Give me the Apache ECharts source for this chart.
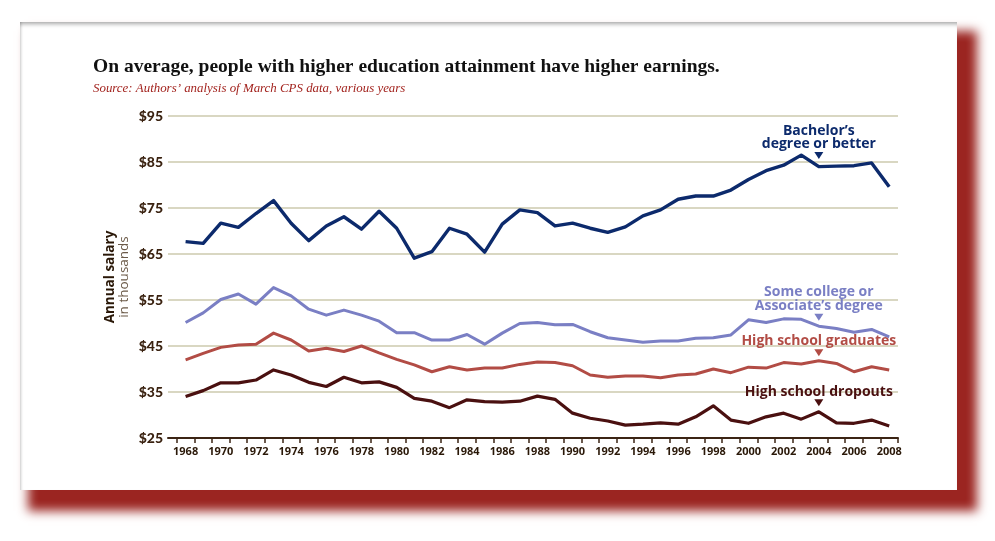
<!DOCTYPE html>
<html><head><meta charset="utf-8">
<script src="https://cdn.jsdelivr.net/npm/echarts@6/dist/echarts.min.js"></script>
<style>
html,body{margin:0;padding:0;background:#fff;width:995px;height:541px;overflow:hidden;}
#card{position:absolute;left:20px;top:22px;width:937px;height:468px;background:#fff;
  box-shadow: inset 0 5px 4px -3px rgba(0,0,0,0.35), inset 3px 0 3px -2px rgba(0,0,0,0.2), 14px 15px 10px 6px #9b2521;}
#chart{position:absolute;left:0;top:0;width:995px;height:541px;}
</style></head><body>
<div id="card"></div><div id="chart"></div>
<script>
// ---- data ----
const years = [1968,1969,1970,1971,1972,1973,1974,1975,1976,1977,1978,1979,1980,1981,1982,1983,1984,1985,1986,1987,1988,1989,1990,1991,1992,1993,1994,1995,1996,1997,1998,1999,2000,2001,2002,2003,2004,2005,2006,2007,2008];
const xTickLabels = [1968,1970,1972,1974,1976,1978,1980,1982,1984,1986,1988,1990,1992,1994,1996,1998,2000,2002,2004,2006,2008];
const yTickLabels = ['$25','$35','$45','$55','$65','$75','$85','$95'];
const bachelors = [67.7,67.3,71.7,70.8,73.8,76.6,71.7,67.9,71.1,73.1,70.4,74.3,70.6,64.1,65.5,70.6,69.3,65.4,71.5,74.6,74.0,71.1,71.7,70.6,69.7,70.9,73.3,74.6,76.9,77.6,77.6,78.9,81.2,83.1,84.3,86.5,84.0,84.1,84.2,84.8,79.6];
const someCollege = [50.1,52.2,55.1,56.3,54.1,57.7,55.9,53.0,51.7,52.8,51.7,50.4,47.9,47.9,46.3,46.3,47.5,45.4,47.8,49.9,50.1,49.6,49.7,48.1,46.8,46.3,45.8,46.1,46.1,46.7,46.8,47.4,50.7,50.1,50.9,50.8,49.3,48.8,48.0,48.6,47.0];
const hsGrads = [42.0,43.4,44.7,45.2,45.4,47.8,46.3,43.9,44.5,43.8,45.0,43.5,42.1,40.9,39.4,40.5,39.8,40.2,40.2,41.0,41.5,41.4,40.7,38.7,38.2,38.5,38.5,38.1,38.7,38.9,40.0,39.2,40.4,40.2,41.4,41.1,41.8,41.2,39.4,40.5,39.8];
const dropouts = [34.0,35.3,37.0,37.0,37.6,39.8,38.7,37.1,36.2,38.2,37.0,37.2,36.0,33.6,33.0,31.6,33.3,32.9,32.8,33.0,34.1,33.4,30.4,29.3,28.7,27.8,28.0,28.3,28.0,29.6,32.0,28.9,28.2,29.6,30.4,29.1,30.7,28.3,28.2,28.9,27.6];
const seriesNames = ['Bachelor’s degree or better','Some college or Associate’s degree','High school graduates','High school dropouts'];
const annotLabels = ['Bachelor’s\ndegree or better','Some college or\nAssociate’s degree','High school graduates','High school dropouts'];
const annotYear = 2004;
const titleText = 'On average, people with higher education attainment have higher earnings.';
const subtitleText = 'Source: Authors’ analysis of March CPS data, various years';

// ---- styles ----
const colors = ['#0c2a6c','#7a7fc4','#b24c45','#4a1010'];
const widths = [3.4,3.0,3.0,3.2];
const offsets = [-11,-9,-8,-9];
const allData = [bachelors, someCollege, hsGrads, dropouts];

const series = allData.map((vals, i) => ({
  name: seriesNames[i],
  type: 'line',
  data: years.map((y, k) => [y, vals[k]]),
  showSymbol: false,
  lineStyle: {color: colors[i], width: widths[i], join: 'round'},
  itemStyle: {color: colors[i]},
  z: 5 - i,
  markPoint: {
    symbol: 'path://M0,0L10,0L5,8Z',
    symbolSize: [9, 7],
    symbolOffset: [0, offsets[i]],
    silent: true,
    itemStyle: {color: colors[i]},
    label: {
      show: true, position: 'top', distance: 1,
      formatter: annotLabels[i],
      color: colors[i], fontFamily: 'Open Sans', fontWeight: 'bold', fontSize: 14, lineHeight: 13.5, align: 'center'
    },
    data: [{coord: [annotYear, vals[years.indexOf(annotYear)]]}]
  }
}));

const chart = echarts.init(document.getElementById('chart'), null, {renderer: 'canvas'});
chart.setOption({
  animation: false,
  backgroundColor: 'transparent',
  title: [
    {text: titleText, left: 93, top: 57, padding: 0, textStyle: {fontFamily: 'Liberation Serif', fontWeight: 'bold', fontSize: 19.5, color: '#111'}},
    {text: subtitleText, left: 93, top: 82, padding: 0, textStyle: {fontFamily: 'Liberation Serif', fontStyle: 'italic', fontWeight: 'normal', fontSize: 12.9, color: '#a3241f'}}
  ],
  grid: {left: 168, top: 116, width: 730, height: 322, containLabel: false},
  xAxis: {
    type: 'value', min: 1967, max: 2008.5,
    axisLine: {show: true, onZero: false, lineStyle: {color: '#3b2414', width: 2}},
    axisTick: {show: true, customValues: years.map(y => y - 0.5).concat([years[years.length - 1] + 0.5]), length: 5, lineStyle: {color: '#3b2414', width: 1.5}},
    axisLabel: {customValues: xTickLabels, formatter: v => String(v), fontFamily: 'Open Sans', fontWeight: 'bold', fontSize: 11, color: '#2a1808', margin: 8},
    splitLine: {show: false}
  },
  yAxis: {
    type: 'value', min: 25, max: 95, interval: 10,
    axisLine: {show: false}, axisTick: {show: false},
    splitLine: {show: true, lineStyle: {color: '#d9d7c2', width: 2}},
    axisLabel: {formatter: v => yTickLabels[Math.round((v - 25) / 10)], fontFamily: 'Lato', fontWeight: 900, fontSize: 14, color: '#3a2210', margin: 5},
    name: '{a|Annual salary}\n{b|in thousands}',
    nameLocation: 'middle', nameRotate: 90, nameGap: 37, nameMoveOverlap: false,
    nameTextStyle: {
      lineHeight: 14,
      rich: {
        a: {fontFamily: 'Open Sans', fontWeight: 'bold', fontSize: 13.5, color: '#2a1808', lineHeight: 14},
        b: {fontFamily: 'Open Sans', fontWeight: 'normal', fontSize: 13.5, color: '#6b5a48', lineHeight: 14}
      }
    }
  },
  series: series
});
</script></body></html>
